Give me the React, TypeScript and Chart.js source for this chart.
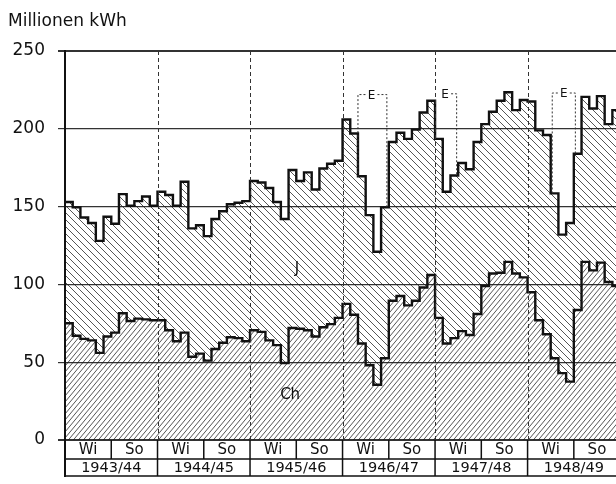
import { useEffect, useRef } from 'react';
import { Chart, registerables } from 'chart.js';

Chart.register(...registerables);

// ---- data ----
const yearLabels = ['1943/44', '1944/45', '1945/46', '1946/47', '1947/48', '1948/49'];
const halfLabels = ['Wi', 'So'];
const yTickValues = [0, 50, 100, 150, 200, 250];
const yAxisTitle = 'Millionen kWh';
const seriesLabels = ['Ch', 'J'];
const eLabel = 'E';

// total production (upper line), monthly, Millionen kWh
const total1943 = [153, 149.5, 143, 139.5, 128, 143.5, 139, 158, 150.5, 153.5, 156.5, 150.5];
const total1944 = [159.5, 157.5, 150.5, 166, 136, 138, 131, 142, 147, 151.5, 152.5, 153.5];
const total1945 = [166.5, 165.5, 162, 153, 142, 173.5, 166.5, 172, 161, 174.5, 177.5, 179.5];
const total1946 = [206, 197, 169.5, 144.5, 121, 149.5, 191.5, 197.5, 193.5, 199.5, 210.5, 218];
const total1947 = [193.5, 159.5, 170, 178, 174, 191.5, 203, 211, 218, 223.5, 212, 218.5];
const total1948 = [217.5, 199, 196, 158.5, 132, 139.5, 184, 220.5, 213, 221, 203, 212];

// Ch (lower line), monthly, Millionen kWh
const ch1943 = [75, 67, 65, 64, 56, 66.5, 69, 81.5, 76.5, 78, 77.5, 77];
const ch1944 = [77, 70.5, 63.5, 69, 53.5, 55.5, 51, 58.5, 62.5, 66, 65.5, 63.5];
const ch1945 = [70.5, 69.5, 64, 61, 49.5, 72, 71.5, 70.5, 66.5, 72.5, 74.5, 78.5];
const ch1946 = [87.5, 80.5, 62, 48, 35.5, 52.5, 89.5, 92.5, 86.5, 89.5, 98, 106];
const ch1947 = [78.5, 62, 65.5, 70, 67.5, 81, 99, 107, 107.5, 114.5, 107, 104.5];
const ch1948 = [95, 77, 68, 52.5, 43, 37.5, 83.5, 114.5, 109, 114, 101.5, 99];

// "E" brackets (month index from Oct 1943, value of bracket top)
const eLeft = [38.0, null, 63.2];
const eRight = [41.75, 50.8, 66.2];
const eCenter = [39.75, 49.3, 64.7];
const eTop = [222, 222.5, 223];

const totalSeries = [...total1943, ...total1944, ...total1945, ...total1946, ...total1947, ...total1948];
const chSeries = [...ch1943, ...ch1944, ...ch1945, ...ch1946, ...ch1947, ...ch1948];

const FONT = "'DejaVu Sans', 'Liberation Sans', sans-serif";

function toSteps(vals: number[]) {
  const pts = vals.map((v, i) => ({ x: i, y: v }));
  pts.push({ x: vals.length, y: vals[vals.length - 1] });
  return pts;
}

function makeHatch(w: number, h: number, back: boolean, color: string, lw: number) {
  const c = document.createElement('canvas');
  c.width = w;
  c.height = h;
  const g = c.getContext('2d')!;
  g.strokeStyle = color;
  g.lineWidth = lw;
  g.beginPath();
  for (let n = -2; n <= 3; n++) {
    if (back) {
      g.moveTo(-w, n * h - h);
      g.lineTo(2 * w, n * h + 2 * h);
    } else {
      g.moveTo(-w, n * h + h);
      g.lineTo(2 * w, n * h - 2 * h);
    }
  }
  g.stroke();
  return g.createPattern(c, 'repeat')!;
}

const decorPlugin = {
  id: 'decor',
  afterDatasetsDraw(chart: any) {
    const ctx: CanvasRenderingContext2D = chart.ctx;
    const xs = chart.scales.x;
    const ys = chart.scales.y;
    const area = chart.chartArea;
    const right = area.right;
    const bottom = area.bottom;
    const row1 = 459;
    const row2 = 476;
    ctx.save();

    // year dashed lines in plot
    ctx.strokeStyle = '#333';
    ctx.lineWidth = 1;
    ctx.setLineDash([4, 3]);
    for (let k = 1; k < yearLabels.length; k++) {
      const x = Math.round(xs.getPixelForValue(k * 12)) + 0.5;
      ctx.beginPath();
      ctx.moveTo(x, area.top);
      ctx.lineTo(x, bottom);
      ctx.stroke();
    }
    ctx.setLineDash([]);

    // table
    ctx.strokeStyle = '#111';
    ctx.lineWidth = 1.6;
    ctx.beginPath();
    ctx.moveTo(area.left, row1);
    ctx.lineTo(right, row1);
    ctx.moveTo(area.left, row2);
    ctx.lineTo(right, row2);
    ctx.stroke();
    ctx.lineWidth = 2;
    ctx.beginPath();
    ctx.moveTo(area.left, bottom);
    ctx.lineTo(area.left, row2 + 1);
    ctx.stroke();
    ctx.lineWidth = 1.5;
    ctx.beginPath();
    for (let k = 1; k <= yearLabels.length; k++) {
      const x = xs.getPixelForValue(k * 12);
      ctx.moveTo(x, bottom);
      ctx.lineTo(x, row2);
    }
    for (let k = 0; k < yearLabels.length; k++) {
      const x = xs.getPixelForValue(k * 12 + 6);
      ctx.moveTo(x, bottom);
      ctx.lineTo(x, row1);
    }
    ctx.stroke();

    ctx.fillStyle = '#111';
    ctx.textAlign = 'center';
    ctx.textBaseline = 'middle';
    ctx.font = `15px ${FONT}`;
    for (let k = 0; k < yearLabels.length; k++) {
      ctx.fillText(halfLabels[0], xs.getPixelForValue(k * 12 + 3), (bottom + row1) / 2 + 1);
      ctx.fillText(halfLabels[1], xs.getPixelForValue(k * 12 + 9), (bottom + row1) / 2 + 1);
    }
    ctx.font = `14.5px ${FONT}`;
    for (let k = 0; k < yearLabels.length; k++) {
      ctx.fillText(yearLabels[k], xs.getPixelForValue(k * 12 + 6), (row1 + row2) / 2 + 1);
    }

    // series labels
    ctx.font = `15px ${FONT}`;
    ctx.fillText(seriesLabels[1], xs.getPixelForValue(30.1), ys.getPixelForValue(110));
    ctx.fillText(seriesLabels[0], xs.getPixelForValue(29.2), ys.getPixelForValue(29));

    // E brackets
    ctx.strokeStyle = '#333';
    ctx.lineWidth = 1;
    ctx.setLineDash([2, 2]);
    ctx.font = `12px ${FONT}`;
    for (let i = 0; i < eRight.length; i++) {
      const yt = ys.getPixelForValue(eTop[i]);
      const xc = xs.getPixelForValue(eCenter[i]);
      const xr = xs.getPixelForValue(eRight[i]);
      const yrBot = ys.getPixelForValue(totalSeries[Math.floor(eRight[i])]);
      ctx.beginPath();
      ctx.moveTo(xc + 6, yt);
      ctx.lineTo(xr, yt);
      ctx.lineTo(xr, yrBot);
      const l = eLeft[i];
      if (l !== null) {
        const xl = xs.getPixelForValue(l);
        const ylBot = ys.getPixelForValue(totalSeries[Math.floor(l)]);
        ctx.moveTo(xc - 6, yt);
        ctx.lineTo(xl, yt);
        ctx.lineTo(xl, ylBot);
      }
      ctx.stroke();
      ctx.fillText(eLabel, xc, yt + 1);
    }
    ctx.setLineDash([]);

    // title
    ctx.textAlign = 'left';
    ctx.textBaseline = 'alphabetic';
    ctx.font = `17px ${FONT}`;
    ctx.fillText(yAxisTitle, 8, 26);
    ctx.restore();
  },
};

export default function App() {
  const ref = useRef<HTMLCanvasElement>(null);
  useEffect(() => {
    const canvas = ref.current!;
    const hatchFwd = makeHatch(5, 6, false, 'rgba(20,20,20,0.8)', 0.9);
    const hatchBack = makeHatch(7, 7, true, 'rgba(20,20,20,0.8)', 0.9);
    const chart = new Chart(canvas, {
      type: 'line',
      data: {
        datasets: [
          {
            label: seriesLabels[0],
            data: toSteps(chSeries),
            stepped: 'before',
            borderColor: '#111',
            borderWidth: 2.4,
            pointRadius: 0,
            backgroundColor: hatchFwd,
            fill: 'origin',
          },
          {
            label: seriesLabels[1],
            data: toSteps(totalSeries),
            stepped: 'before',
            borderColor: '#111',
            borderWidth: 2.4,
            pointRadius: 0,
            backgroundColor: hatchBack,
            fill: '-1',
          },
        ],
      },
      options: {
        animation: false,
        responsive: true,
        maintainAspectRatio: false,
        layout: { padding: { top: 51, right: 0, bottom: 44, left: 0 } },
        plugins: { legend: { display: false }, tooltip: { enabled: false } },
        scales: {
          x: { type: 'linear', min: 0, max: 71.47, display: false },
          y: {
            min: 0,
            max: 250,
            afterBuildTicks: (s: any) => {
              s.ticks = yTickValues.map((v) => ({ value: v }));
            },
            afterFit: (s: any) => {
              s.width = 65;
            },
            ticks: {
              color: '#111',
              font: { family: FONT, size: 17 },
              padding: 13,
            },
            grid: {
              color: '#333',
              lineWidth: (c: any) => (c.tick && (c.tick.value === 0 || c.tick.value === 250) ? 2 : 1.2),
              tickLength: 7,
            },
            border: { display: true, color: '#111', width: 2 },
          },
        },
      },
      plugins: [decorPlugin],
    });
    return () => chart.destroy();
  }, []);
  return (
    <div style={{ position: 'absolute', left: 0, top: 0, width: 616, height: 484, background: '#fff' }}>
      <canvas ref={ref} />
    </div>
  );
}
